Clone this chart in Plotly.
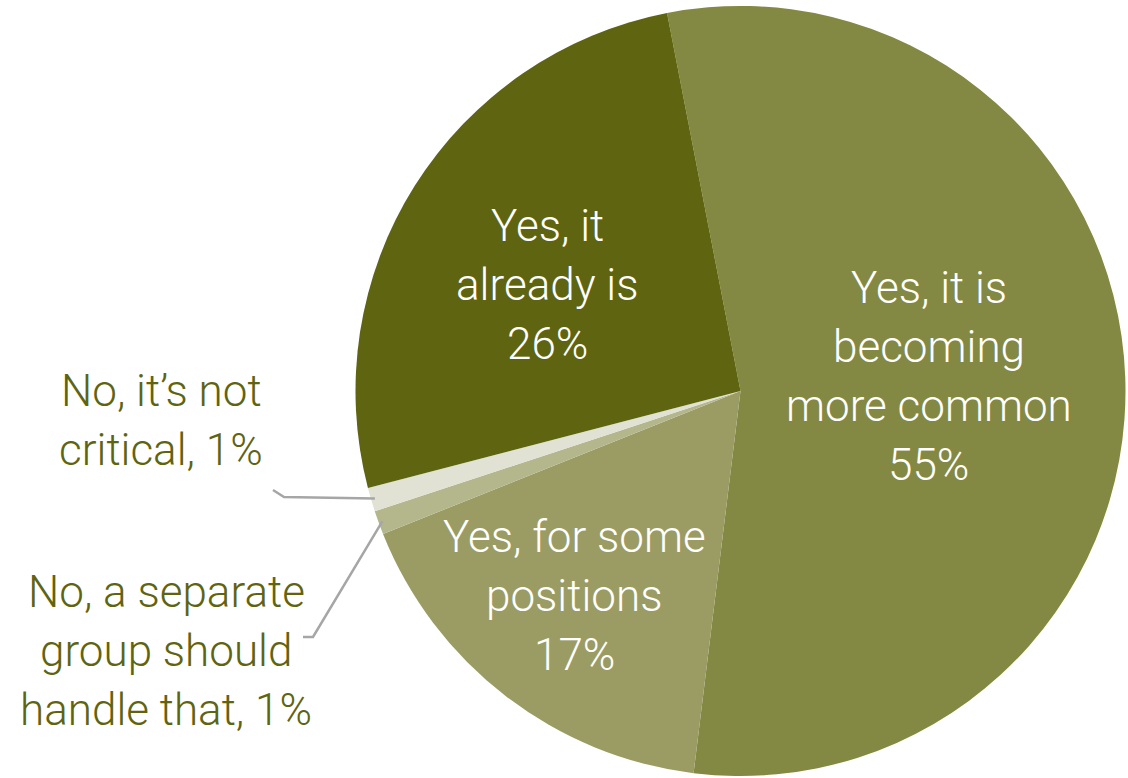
import math
import plotly.graph_objects as go

# Survey answers, in clockwise order starting near 12 o'clock
labels = [
    "Yes, it is becoming more common",
    "Yes, for some positions",
    "No, a separate group should handle that",
    "No, it\u2019s not critical",
    "Yes, it already is",
]
values = [55, 17, 1, 1, 26]
colors = ["#838942", "#9A9C63", "#B4B68B", "#E1E2D3", "#5E6410"]

# Text lines drawn for each slice (label lines followed by the value)
label_lines = [
    ["Yes, it is", "becoming", "more common"],
    ["Yes, for some", "positions"],
    ["No, a separate", "group should", "handle that,"],
    ["No, it\u2019s not", "critical,"],
    ["Yes, it", "already is"],
]

W, H = 1128, 778
ROTATION = -11
DOM_X = [355 / W, 1126 / W]
DOM_Y = [1 - 776 / H, 1 - 6 / H]

FONT = "Roboto"
DARK = "#5E6410"
LEADER = "#A6A6A6"
LINE_GAP = 59
FS = 44

# pie geometry in pixels, derived from its domain
cx = (DOM_X[0] + DOM_X[1]) / 2 * W
cy = H * (1 - (DOM_Y[0] + DOM_Y[1]) / 2)
R = min((DOM_X[1] - DOM_X[0]) * W, (DOM_Y[1] - DOM_Y[0]) * H) / 2


def to_paper(x, y):
    return x / W, 1 - y / H


def mid_angles():
    out, acc = [], ROTATION
    total = sum(values)
    for v in values:
        span = 360 * v / total
        out.append(acc + span / 2)
        acc += span
    return out


def polar(angle_deg, r):
    a = math.radians(angle_deg)
    return cx + r * math.sin(a), cy - r * math.cos(a)


fig = go.Figure(
    go.Pie(
        labels=labels,
        values=values,
        sort=False,
        direction="clockwise",
        rotation=ROTATION,
        marker=dict(colors=colors, line=dict(width=0)),
        textinfo="none",
        hoverinfo="label+percent",
        domain=dict(x=DOM_X, y=DOM_Y),
        showlegend=False,
    )
)

annotations = []
shapes = []
mids = mid_angles()

# inside labels: placement as (radius fraction, angle nudge)
inside_place = {0: (0.49, -2.5), 1: (0.686, 1.4), 4: (0.571, -3.4)}
# outside labels: text centre in pixels and leader elbow points
outside_place = {
    3: dict(center=(161, 421), elbow=[(273, 490), (284, 497)]),
    2: dict(center=(166, 651), elbow=[(303, 637), (313, 637)]),
}

for i, v in enumerate(values):
    lines = label_lines[i] + [f"{v}%"]
    if i in inside_place:
        frac, nudge = inside_place[i]
        tx, ty = polar(mids[i] + nudge, R * frac)
        color = "white"
    else:
        tx, ty = outside_place[i]["center"]
        lines = label_lines[i][:-1] + [label_lines[i][-1] + f" {v}%"]
        color = DARK
        # leader line from the label to the slice edge
        ex, ey = polar(mids[i], R * 0.99)
        pts = outside_place[i]["elbow"] + [(ex, ey)]
        path = "M " + " L ".join(
            f"{to_paper(x, y)[0]},{to_paper(x, y)[1]}" for x, y in pts
        )
        shapes.append(
            dict(type="path", xref="paper", yref="paper", path=path,
                 line=dict(color=LEADER, width=2.5))
        )
    n = len(lines)
    px, py = to_paper(tx, ty)
    for k, t in enumerate(lines):
        annotations.append(
            dict(
                x=px, y=py, xref="paper", yref="paper",
                text=t, showarrow=False,
                xanchor="center", yanchor="middle",
                yshift=-(k - (n - 1) / 2) * LINE_GAP,
                font=dict(family=FONT, size=FS, color=color, weight=300),
            )
        )

fig.update_layout(
    width=W,
    height=H,
    margin=dict(l=0, r=0, t=0, b=0),
    paper_bgcolor="white",
    plot_bgcolor="white",
    annotations=annotations,
    shapes=shapes,
)

fig.write_html("out.html")
